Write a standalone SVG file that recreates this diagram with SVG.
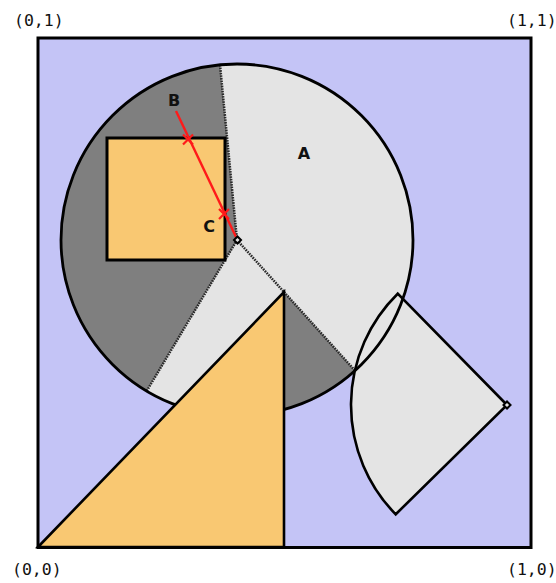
<svg xmlns="http://www.w3.org/2000/svg" width="556" height="583" viewBox="0 0 556 583">
<style>
.coord{font-family:"DejaVu Sans Mono","Liberation Mono",monospace;font-size:16.5px;fill:#111}
.lbl{font-family:"DejaVu Sans","Liberation Sans",sans-serif;font-size:16px;font-weight:bold;fill:#111}
.ray{stroke:#2a2a2a;stroke-width:2.5;stroke-dasharray:1.6 1;fill:none}
.edge{stroke:#000;stroke-width:2.8;fill:none}
.mark{fill:#e4e4e4;stroke:#000;stroke-width:2}
.x{stroke:#ff1a1a;stroke-width:2.2;fill:none}
</style>
<rect width="556" height="583" fill="#ffffff"/>
<g id="area">
<rect x="38" y="38" width="493" height="509.5" fill="#c4c4f6" stroke="#000" stroke-width="3"/>
</g>
<g id="circle-fill">
<circle cx="237" cy="240" r="176" fill="#7f7f7f"/>
</g>
<g id="visible-region">
<path d="M237,240 L220,64.8 A176,176 0 0 1 355,370.6 L284,292 L175.2,404.8 A176,176 0 0 1 146.7,391 Z" fill="#e4e4e4"/>
</g>
<g id="connectors">
<line class="ray" x1="237" y1="240" x2="220" y2="64.8"/>
<line class="ray" x1="237" y1="240" x2="355" y2="370.6"/>
<line class="ray" x1="237" y1="240" x2="146.7" y2="391"/>
</g>
<g id="sector">
<path d="M507,405 L397.7,293.7 A156,156 0 0 0 395.7,514.3 Z" fill="#e4e4e4" stroke="#000" stroke-width="2.6"/>
<rect class="mark" x="504.5" y="402.5" width="5" height="5" transform="rotate(45 507 405)"/>
</g>
<g id="circle-outline">
<circle class="edge" cx="237" cy="240" r="176"/>
</g>
<g id="square">
<rect x="107" y="138" width="118" height="122" fill="#f9c872" stroke="#000" stroke-width="3"/>
</g>
<g id="triangle">
<path d="M38,547 L284,292 L284,547 Z" fill="#f9c872" stroke="#000" stroke-width="2.6" stroke-linejoin="miter"/>
</g>
<g id="segment-BC">
<line x1="176" y1="111" x2="236" y2="237" stroke="#ff1a1a" stroke-width="2.4"/>
<path class="x" d="M183,134.5 L193,144.5 M193,134.5 L183,144.5"/>
<path class="x" d="M219,209 L229,219 M229,209 L219,219"/>
</g>
<g id="viewpoint">
<rect class="mark" x="235" y="237.5" width="5" height="5" transform="rotate(45 237.5 240)"/>
</g>
<g id="labels">
<text class="lbl" x="304" y="159" text-anchor="middle">A</text>
<text class="lbl" x="174" y="106" text-anchor="middle">B</text>
<text class="lbl" x="209" y="232" text-anchor="middle">C</text>
<text class="coord" x="14" y="26">(0,1)</text>
<text class="coord" x="507" y="26">(1,1)</text>
<text class="coord" x="12" y="575">(0,0)</text>
<text class="coord" x="507" y="575">(1,0)</text>
</g>
</svg>
